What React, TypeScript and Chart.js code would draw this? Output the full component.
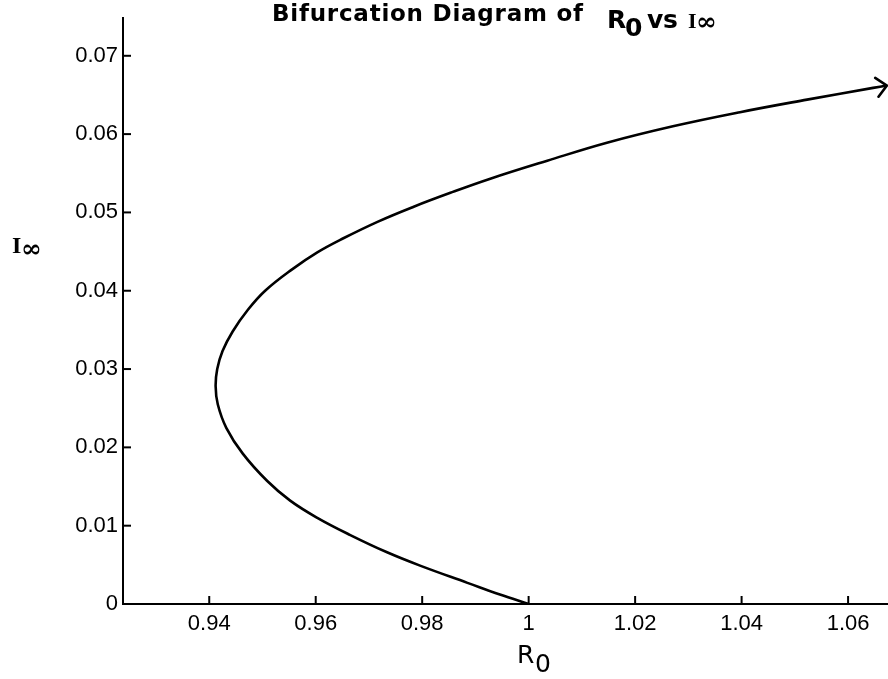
import React, { useEffect, useRef } from "react";
import { Chart, registerables } from "chart.js";

Chart.register(...registerables);

// Curve: lower branch from (1, 0) to the turning point, then upper branch
const R0_VALUES = [
  1.0, 0.9946, 0.9885, 0.9796, 0.9734, 0.9665, 0.9603, 0.9552, 0.9509, 0.9463,
  0.9432, 0.9416, 0.9412, 0.9415, 0.9425, 0.9444, 0.9473, 0.9505, 0.9555, 0.9603,
  0.9652, 0.9716, 0.9783, 0.9853, 0.9928, 1.0035, 1.0147, 1.0271, 1.0397, 1.0523,
  1.0647, 1.0673,
];
const I_VALUES = [
  0, 0.0012, 0.0027, 0.0049, 0.0066, 0.0088, 0.011, 0.0132, 0.0157, 0.0192,
  0.0225, 0.0255, 0.0278, 0.03, 0.0323, 0.0348, 0.0376, 0.04, 0.0427, 0.0449,
  0.0467, 0.0488, 0.0507, 0.0525, 0.0543, 0.0566, 0.0589, 0.061, 0.0628, 0.0644,
  0.0659, 0.0662,
];

const X_TICKS = [0.94, 0.96, 0.98, 1.0, 1.02, 1.04, 1.06];
const Y_TICKS = [0, 0.01, 0.02, 0.03, 0.04, 0.05, 0.06, 0.07];

const X_MIN = 0.9238;
const X_MAX = 1.0675;
const Y_MIN = 0;
const Y_MAX = 0.0748;

const fmt = (v: number) => String(Number(Number(v).toFixed(2)));

function drawFitted(ctx: CanvasRenderingContext2D, text: string, x: number, y: number, target: number) {
  (ctx as any).letterSpacing = "0px";
  const w = ctx.measureText(text).width;
  const sp = (target - w) / Math.max(1, text.length - 1);
  (ctx as any).letterSpacing = sp + "px";
  ctx.fillText(text, x, y);
  (ctx as any).letterSpacing = "0px";
}

const decorPlugin = {
  id: "decor",
  afterDraw(chart: any) {
    const ctx: CanvasRenderingContext2D = chart.ctx;
    const xs = chart.scales.x;
    const ys = chart.scales.y;
    const area = chart.chartArea;
    ctx.save();
    ctx.strokeStyle = "#000";
    ctx.fillStyle = "#000";
    ctx.lineWidth = 2;

    // inward tick marks
    X_TICKS.forEach((v) => {
      const px = xs.getPixelForValue(v);
      ctx.beginPath();
      ctx.moveTo(px, area.bottom);
      ctx.lineTo(px, area.bottom - 8);
      ctx.stroke();
    });
    Y_TICKS.forEach((v) => {
      const py = ys.getPixelForValue(v);
      ctx.beginPath();
      ctx.moveTo(area.left, py);
      ctx.lineTo(area.left + 8, py);
      ctx.stroke();
    });

    // arrow head at the end of the curve
    const meta = chart.getDatasetMeta(0);
    const n = meta.data.length;
    const p1 = meta.data[n - 1];
    const p0 = meta.data[n - 3];
    const ang = Math.atan2(p1.y - p0.y, p1.x - p0.x);
    const len = 14;
    const spread = 0.75;
    ctx.lineWidth = 2.6;
    ctx.lineCap = "round";
    ctx.beginPath();
    ctx.moveTo(p1.x - len * Math.cos(ang - spread), p1.y - len * Math.sin(ang - spread));
    ctx.lineTo(p1.x, p1.y);
    ctx.lineTo(p1.x - len * Math.cos(ang + spread), p1.y - len * Math.sin(ang + spread));
    ctx.stroke();

    // title
    ctx.textBaseline = "alphabetic";
    ctx.textAlign = "left";
    ctx.font = "bold 23px 'DejaVu Sans'";
    drawFitted(ctx, "Bifurcation Diagram of", 272, 21, 311);
    ctx.font = "bold 25px 'DejaVu Sans'";
    ctx.fillText("R", 607, 28);
    ctx.fillText("0", 625, 36);
    ctx.font = "bold 25px 'DejaVu Sans'";
    drawFitted(ctx, "vs", 647, 28, 31);
    ctx.font = "bold 22px 'Liberation Serif'";
    ctx.fillText("I", 688, 28);
    ctx.font = "bold 25px 'DejaVu Serif'";
    ctx.fillText("\u221E", 696, 30);

    // y axis title
    ctx.font = "bold 24px 'Liberation Serif'";
    ctx.fillText("I", 12, 253);
    ctx.font = "bold 25px 'DejaVu Serif'";
    ctx.fillText("\u221E", 21, 257);

    // x axis title
    ctx.font = "25px 'DejaVu Sans'";
    ctx.fillText("R", 517, 663);
    ctx.fillText("0", 535, 672);

    ctx.restore();
  },
};

export default function App() {
  const ref = useRef<HTMLCanvasElement | null>(null);

  useEffect(() => {
    if (!ref.current) return;
    const points = R0_VALUES.map((x, i) => ({ x, y: I_VALUES[i] }));
    const chart = new Chart(ref.current, {
      type: "scatter",
      data: {
        datasets: [
          {
            data: points,
            showLine: true,
            borderColor: "#000",
            backgroundColor: "#000",
            borderWidth: 2.6,
            pointRadius: 0,
            tension: 0.4,
            fill: false,
          },
        ],
      },
      options: {
        responsive: false,
        animation: false,
        devicePixelRatio: 1,
        layout: { padding: { top: 15, left: 0, right: 0, bottom: 0 } },
        plugins: {
          legend: { display: false },
          title: { display: false },
          tooltip: { enabled: false },
        },
        scales: {
          x: {
            type: "linear",
            min: X_MIN,
            max: X_MAX,
            afterBuildTicks: (s: any) => {
              s.ticks = X_TICKS.map((v) => ({ value: v }));
            },
            afterFit: (s: any) => {
              s.height = 75;
            },
            grid: { display: false, drawTicks: false },
            border: { display: true, color: "#000", width: 2 },
            ticks: {
              color: "#000",
              padding: 7,
              maxRotation: 0,
              autoSkip: false,
              font: { family: "'Liberation Sans'", size: 22 },
              callback: (v: any) => fmt(v),
            },
          },
          y: {
            type: "linear",
            min: Y_MIN,
            max: Y_MAX,
            afterBuildTicks: (s: any) => {
              s.ticks = Y_TICKS.map((v) => ({ value: v }));
            },
            afterFit: (s: any) => {
              s.width = 123;
            },
            grid: { display: false, drawTicks: false },
            border: { display: true, color: "#000", width: 2 },
            ticks: {
              color: "#000",
              padding: 5,
              autoSkip: false,
              font: { family: "'Liberation Sans'", size: 22 },
              callback: (v: any) => fmt(v),
            },
          },
        },
      },
      plugins: [decorPlugin],
    });
    return () => chart.destroy();
  }, []);

  return (
    <div style={{ position: "fixed", left: 0, top: 0, width: 888, height: 679, background: "#fff", overflow: "hidden" }}>
      <canvas ref={ref} width={888} height={679} style={{ display: "block" }} />
    </div>
  );
}
